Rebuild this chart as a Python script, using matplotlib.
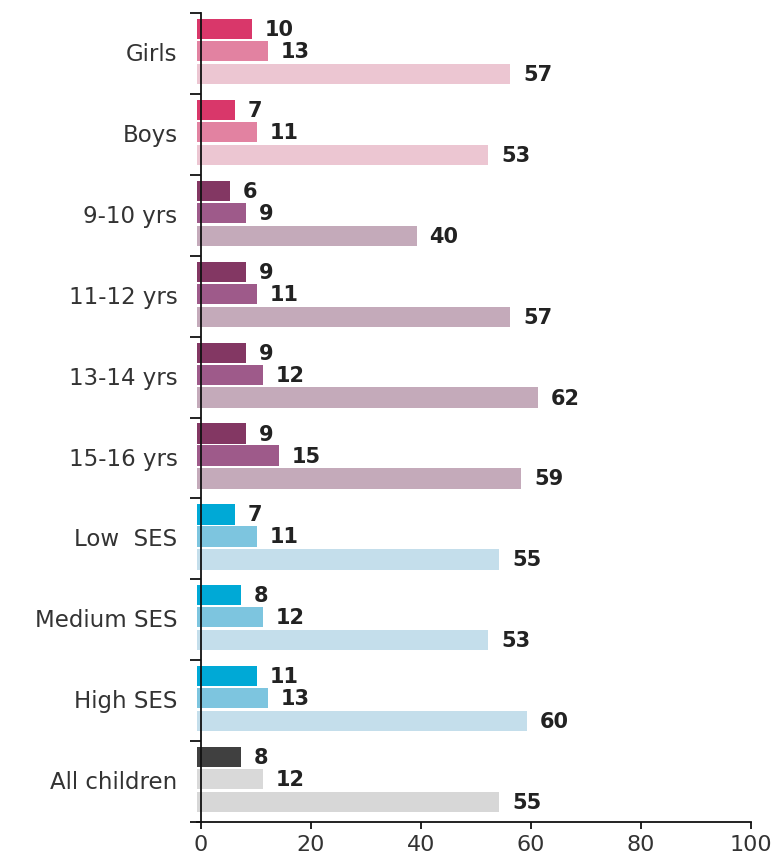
import matplotlib
matplotlib.use("Agg")
import matplotlib.pyplot as plt
import numpy as np

categories = ["Girls", "Boys", "9-10 yrs", "11-12 yrs", "13-14 yrs", "15-16 yrs",
              "Low  SES", "Medium SES", "High SES", "All children"]
series1 = [10, 7, 6, 9, 9, 9, 7, 8, 11, 8]
series2 = [13, 11, 9, 11, 12, 15, 11, 12, 13, 12]
series3 = [57, 53, 40, 57, 62, 59, 55, 53, 60, 55]
xticks = [0, 20, 40, 60, 80, 100]

palette = {
    "gender": ["#D9376A", "#E282A1", "#ECC6D2"],
    "age": ["#833763", "#9E5A8A", "#C4AABA"],
    "ses": ["#00A9D6", "#7DC5DF", "#C4DEEB"],
    "all": ["#404040", "#D9D9D9", "#D7D7D7"],
}
groups = ["gender"] * 2 + ["age"] * 4 + ["ses"] * 3 + ["all"]

plt.rcParams['font.family'] = ['DejaVu Sans']

fig = plt.figure(figsize=(7.78, 8.62), dpi=100)
ax = fig.add_axes([197 / 778, 1 - 823 / 862, (751 - 197) / 778, (823 - 14) / 862])

x0 = -0.73
offsets = [0.198, 0.47, 0.754]
h = 0.25
idx = np.arange(len(categories))
for k, vals in enumerate([series1, series2, series3]):
    cols = [palette[g][k] for g in groups]
    ypos = idx + offsets[k]
    ax.barh(ypos, vals, left=x0, height=h, color=cols, edgecolor='none', zorder=2)
    for y, v in zip(ypos, vals):
        ax.annotate(str(v), xy=(x0 + v, y), xytext=(9, 0), textcoords='offset points',
                    ha='left', va='center', fontsize=15, fontweight='bold', color='#222222')

ax.set_xlim(x0, 100)
ax.set_ylim(len(categories), 0)
ax.spines['left'].set_position(('data', 0))
for s in ['top', 'right']:
    ax.spines[s].set_visible(False)
for s in ['left', 'bottom']:
    ax.spines[s].set_linewidth(1.3)
    ax.spines[s].set_color('#111111')

ax.set_xticks(xticks)
ax.set_xticklabels([str(t) for t in xticks], fontsize=16, color='#333333')
ax.tick_params(axis='x', direction='out', length=5, width=1.3, pad=3.5, color='#111111')

ax.set_yticks(idx + offsets[1])
ax.set_yticklabels(categories, fontsize=16.5, color='#333333')
ax.tick_params(axis='y', which='major', length=0, pad=17)
ax.set_yticks(np.arange(len(categories) + 1), minor=True)
ax.tick_params(axis='y', which='minor', direction='out', length=8, width=1.3, color='#111111')

fig.savefig("out.png", dpi=100)
